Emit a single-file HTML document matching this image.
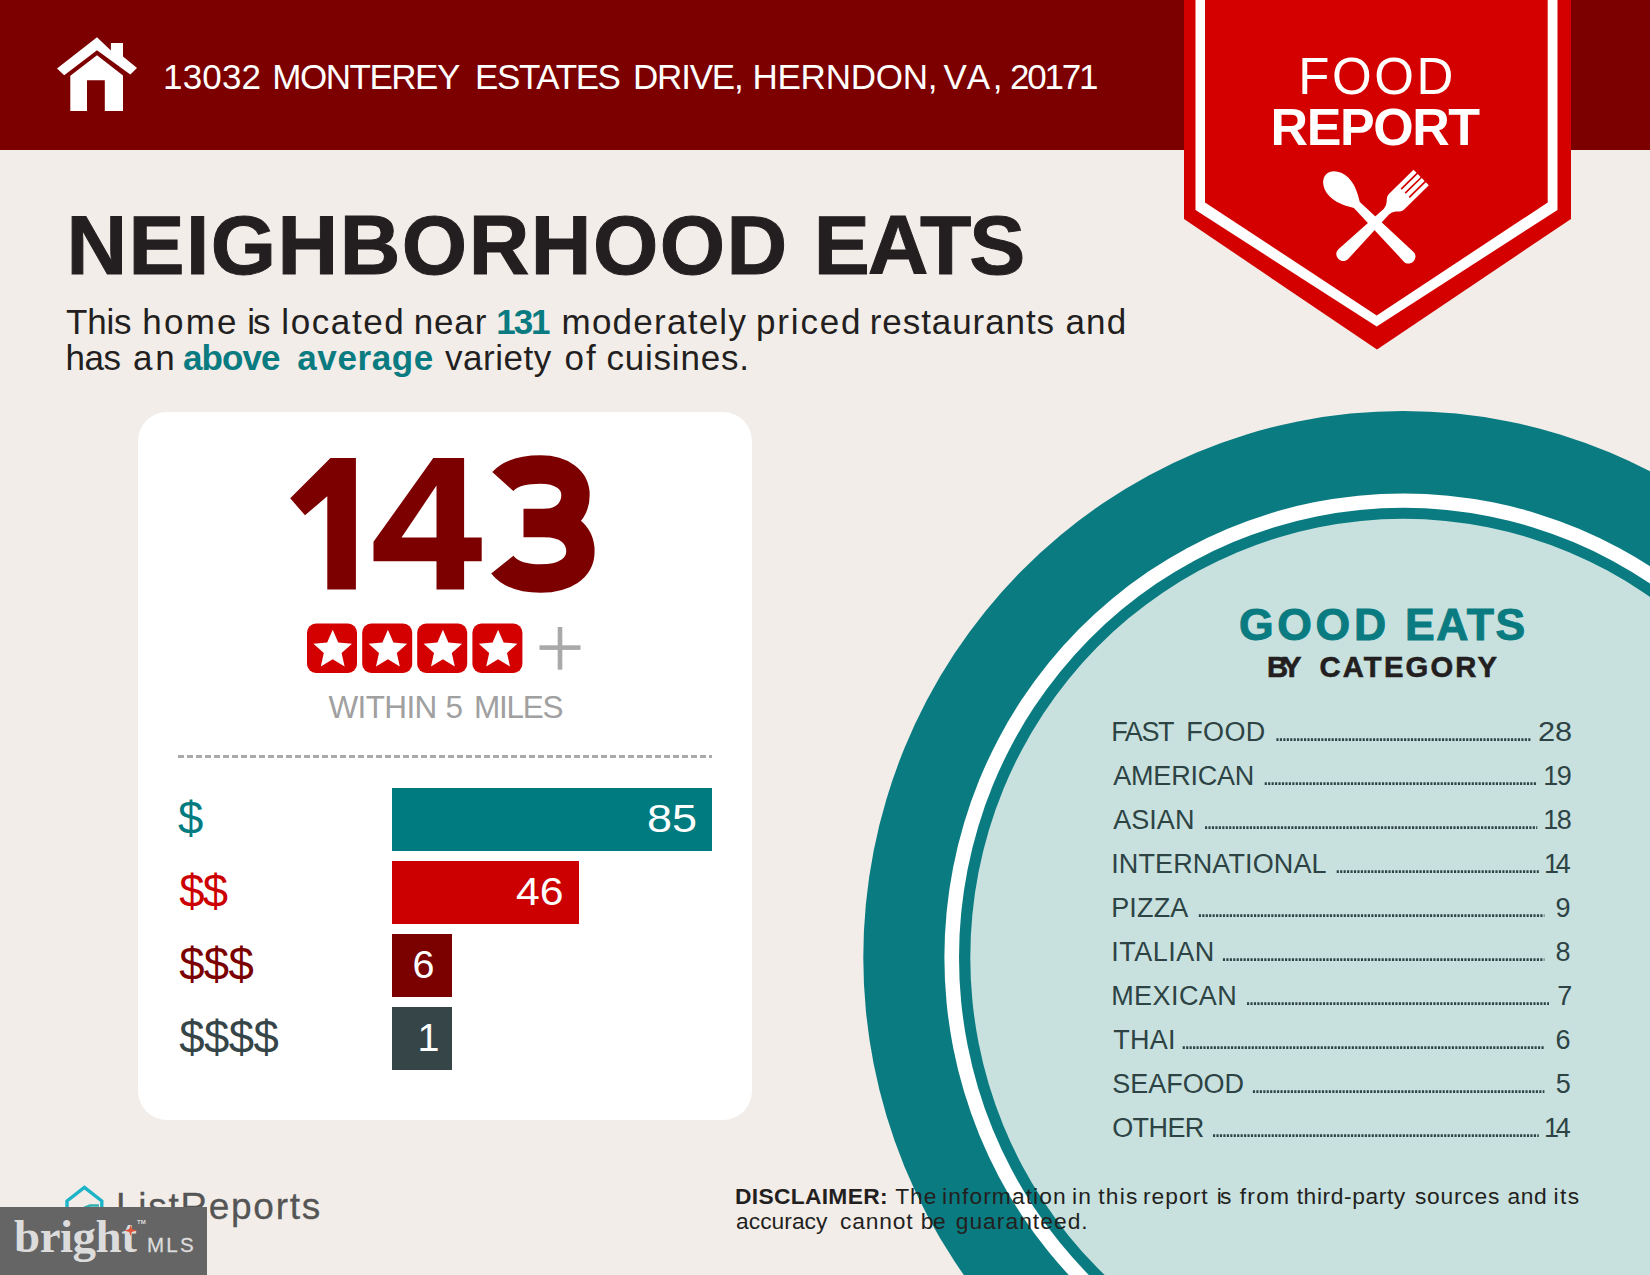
<!DOCTYPE html>
<html>
<head>
<meta charset="utf-8">
<title>Food Report</title>
<style>
*{margin:0;padding:0;box-sizing:border-box}
html,body{width:1650px;height:1275px;overflow:hidden}
body{background:#f2ede9;font-family:"Liberation Sans",sans-serif;position:relative;color:#231f20}
.abs{position:absolute;white-space:pre;line-height:1}
#hdr{position:absolute;left:0;top:0;width:1650px;height:150px;background:#7d0000}
#addr{left:163.5px;top:58.5px;font-size:34px;color:#fff;letter-spacing:0px}
.sub{font-size:33px;color:#231f20;letter-spacing:1.7px}
.sub b{color:#0a7b80}
#card{position:absolute;left:138px;top:412px;width:614px;height:708px;background:#fff;border-radius:29px}
#dash{position:absolute;left:178px;top:755px;width:534px;height:3px;background:repeating-linear-gradient(90deg,#aaa 0,#aaa 6px,transparent 6px,transparent 9px)}
.bar{position:absolute;left:392px;height:62.5px;color:#fff;font-size:40px;text-align:right;padding-right:16px;line-height:62px}
.dl{font-size:43px;letter-spacing:1px}
</style>
</head>
<body>
<div id="hdr"></div>

<!-- circle -->
<svg class="abs" style="left:0;top:0" width="1650" height="1275" viewBox="0 0 1650 1275">
  <ellipse cx="1403.3" cy="957.4" rx="540" ry="546.5" fill="#0a7b80"/>
  <ellipse cx="1403.3" cy="957.4" rx="458.9" ry="464" fill="#fff"/>
  <ellipse cx="1403.3" cy="957.4" rx="444.3" ry="449.6" fill="#0a7b80"/>
  <ellipse cx="1403.3" cy="957.4" rx="433" ry="438.6" fill="#c8e1df"/>
</svg>

<!-- house icon -->
<svg class="abs" style="left:50px;top:30px" width="100" height="90" viewBox="50 30 100 90">
  <path fill="#fff" d="M97 37.3 L110.9 50.6 L110.9 43 L123 43 L123 56.5 L137 67.9 L130.3 74.6 L97 50.3 L64.2 75.2 L57 68.5 Z"/>
  <path fill="#fff" d="M97 55.2 L123 75.5 L123 110.9 L104.8 110.9 L104.8 80.2 L87 80.2 L87 110.9 L70.3 110.9 L70.3 75.8 Z"/>
</svg>

<!-- badge -->
<svg class="abs" style="left:1170px;top:0" width="420" height="360" viewBox="1170 0 420 360">
  <polygon fill="#d40000" points="1184,0 1571,0 1571,219 1377,349.5 1184,219"/>
  <polygon fill="#fff" points="1195.5,0 1557.5,0 1557.5,210 1376.7,326.5 1195.5,210"/>
  <polygon fill="#d40000" points="1205,0 1547.7,0 1547.7,202.5 1376.7,315.4 1205,202.5"/>
  <g id="utensils" fill="#fff">
    <g transform="translate(1374.9,223) rotate(45.5)">
      <path d="M-10.9,-64.9 L-10.9,-31 C-10.9,-24 -4.8,-25 -3.8,-16 L-6.9,44 C-7.3,53.5 7.3,53.5 6.9,44 L3.8,-16 C4.8,-25 10.9,-24 10.9,-31 L10.9,-64.9 L6.6,-64.9 L6.6,-42.5 L4.9,-42.5 L4.9,-64.9 L0.85,-64.9 L0.85,-42.5 L-0.85,-42.5 L-0.85,-64.9 L-4.9,-64.9 L-4.9,-42.5 L-6.6,-42.5 L-6.6,-64.9 Z"/>
    </g>
    <g transform="translate(1374.9,223) rotate(-45)">
      <path d="M0,-69 C7,-69 13.2,-61 13.2,-51 C13.2,-43 10.5,-36 4.2,-25.5 L6.8,47.5 C7.2,56.5 -7.2,56.5 -6.8,47.5 L-4.2,-25.5 C-10.5,-36 -13.2,-43 -13.2,-51 C-13.2,-61 -7,-69 0,-69 Z"/>
    </g>
  </g>
</svg>


<div id="card"></div>
<svg class="abs" id="big" style="left:280px;top:445px" width="330" height="160" viewBox="280 445 330 160">
  <g fill="#7d0000">
    <polygon points="330.5,458 355.9,458 355.9,589.6 327.3,589.6 327.3,496.2 305,515.3 290.2,498.3"/>
    <path fill-rule="evenodd" d="M433.3 458 L464.1 458 L464.1 537.6 L481.7 537.6 L481.7 561.3 L464.1 561.3 L464.1 589.6 L436.5 589.6 L436.5 561.3 L373.5 561.3 L373.5 541.8 Z M436.5 485.6 L436.5 537.6 L401.5 537.6 Z"/>
  </g>
  <g fill="none" stroke="#7d0000" stroke-width="28.4">
    <path d="M502.8 481.5 C510 473.5 523 469.5 540.5 469.5 C562 469.5 575.5 480 575.5 495 C575.5 512 562 523 545 523 L523.5 523"/>
    <path d="M545 523 C566 523 580.4 534 580.4 551.5 C580.4 568 565 578.5 540.5 578.5 C522 578.5 509 573 502.3 564.6"/>
  </g>
</svg>

<!-- stars -->
<svg class="abs" style="left:300px;top:618px" width="300" height="62" viewBox="300 618 300 62">
  <defs>
    <g id="st">
      <rect x="0" y="0" width="50" height="49.5" rx="9" ry="9" fill="#d40000"/>
      <polygon fill="#fff" points="25.7,6.2 31.2,18.9 45.0,20.2 34.6,29.4 37.6,42.9 25.7,35.8 13.8,42.9 16.8,29.4 6.4,20.2 20.2,18.9"/>
    </g>
  </defs>
  <use href="#st" x="307" y="623.5"/>
  <use href="#st" x="362.2" y="623.5"/>
  <use href="#st" x="417.2" y="623.5"/>
  <use href="#st" x="472.4" y="623.5"/>
  <rect x="539.5" y="645.3" width="41" height="4.6" fill="#a9a9a9"/>
  <rect x="557.7" y="627" width="4.6" height="42.7" fill="#a9a9a9"/>
</svg>
<div id="dash"></div>

<div class="bar" style="top:788px;width:320px;background:#007b7f"></div>
<div class="bar" style="top:861px;width:187px;background:#cc0000"></div>
<div class="bar" style="top:934px;width:60px;background:#7b0000"></div>
<div class="bar" style="top:1007px;width:60px;background:#364548"></div>

<!-- good eats -->


<svg class="abs" style="left:0;top:0" width="1650" height="1275" viewBox="0 0 1650 1275"><g stroke="#2d4344" stroke-width="2.6" stroke-dasharray="2.15 1.3"><line x1="1276.4" y1="739.65" x2="1530.5" y2="739.65"/><line x1="1264.7" y1="783.65" x2="1537.3" y2="783.65"/><line x1="1205.0" y1="827.65" x2="1537.3" y2="827.65"/><line x1="1336.7" y1="871.65" x2="1538.8" y2="871.65"/><line x1="1198.8" y1="915.65" x2="1544.4" y2="915.65"/><line x1="1222.9" y1="959.65" x2="1544.4" y2="959.65"/><line x1="1247.0" y1="1003.65" x2="1549.0" y2="1003.65"/><line x1="1182.7" y1="1047.65" x2="1544.4" y2="1047.65"/><line x1="1252.9" y1="1091.65" x2="1544.4" y2="1091.65"/><line x1="1213.0" y1="1135.65" x2="1538.8" y2="1135.65"/></g></svg>
<!-- disclaimer -->

<!--WORDS-START-->
<span class="abs" style="left:163.1px;top:59.0px;font-size:35px;letter-spacing:0.16px;color:#fff">13032</span>
<span class="abs" style="left:272.2px;top:59.0px;font-size:35px;letter-spacing:-1.46px;color:#fff">MONTEREY</span>
<span class="abs" style="left:475.0px;top:59.0px;font-size:35px;letter-spacing:-1.39px;color:#fff">ESTATES</span>
<span class="abs" style="left:633.0px;top:59.0px;font-size:35px;letter-spacing:-1.19px;color:#fff">DRIVE,</span>
<span class="abs" style="left:752.5px;top:59.0px;font-size:35px;letter-spacing:-0.25px;color:#fff">HERNDON,</span>
<span class="abs" style="left:943.4px;top:59.0px;font-size:35px;letter-spacing:2.60px;color:#fff">VA,</span>
<span class="abs" style="left:1009.9px;top:59.0px;font-size:35px;letter-spacing:-2.19px;color:#fff">20171</span>
<span class="abs" style="left:66.0px;top:303.7px;font-size:35px;letter-spacing:-0.21px;color:#231f20">This</span>
<span class="abs" style="left:142.3px;top:303.7px;font-size:35px;letter-spacing:2.20px;color:#231f20">home</span>
<span class="abs" style="left:247.3px;top:303.7px;font-size:35px;letter-spacing:-2.08px;color:#231f20">is</span>
<span class="abs" style="left:281.3px;top:303.7px;font-size:35px;letter-spacing:1.60px;color:#231f20">located</span>
<span class="abs" style="left:413.7px;top:303.7px;font-size:35px;letter-spacing:0.87px;color:#231f20">near</span>
<span class="abs" style="left:496.3px;top:303.7px;font-size:35px;letter-spacing:-2.12px;font-weight:700;color:#0a7b80">131</span>
<span class="abs" style="left:561.5px;top:303.7px;font-size:35px;letter-spacing:1.25px;color:#231f20">moderately</span>
<span class="abs" style="left:756.0px;top:303.7px;font-size:35px;letter-spacing:1.83px;color:#231f20">priced</span>
<span class="abs" style="left:869.8px;top:303.7px;font-size:35px;letter-spacing:0.92px;color:#231f20">restaurants</span>
<span class="abs" style="left:1065.4px;top:303.7px;font-size:35px;letter-spacing:1.23px;color:#231f20">and</span>
<span class="abs" style="left:65.6px;top:340.4px;font-size:35px;letter-spacing:-0.47px;color:#231f20">has</span>
<span class="abs" style="left:133.0px;top:340.4px;font-size:35px;letter-spacing:2.83px;color:#231f20">an</span>
<span class="abs" style="left:183.0px;top:340.4px;font-size:35px;letter-spacing:-0.92px;font-weight:700;color:#0a7b80">above</span>
<span class="abs" style="left:297.3px;top:340.4px;font-size:35px;letter-spacing:0.59px;font-weight:700;color:#0a7b80">average</span>
<span class="abs" style="left:445.0px;top:340.4px;font-size:35px;letter-spacing:0.52px;color:#231f20">variety</span>
<span class="abs" style="left:564.6px;top:340.4px;font-size:35px;letter-spacing:1.93px;color:#231f20">of</span>
<span class="abs" style="left:606.5px;top:340.4px;font-size:35px;letter-spacing:0.78px;color:#231f20">cuisines.</span>
<span class="abs" style="left:735.0px;top:1185.2px;font-size:22.8px;letter-spacing:0.31px;font-weight:700;color:#231f20">DISCLAIMER:</span>
<span class="abs" style="left:895.2px;top:1185.2px;font-size:22.8px;letter-spacing:0.95px;color:#231f20">The</span>
<span class="abs" style="left:942.1px;top:1185.2px;font-size:22.8px;letter-spacing:1.08px;color:#231f20">information</span>
<span class="abs" style="left:1072.0px;top:1185.2px;font-size:22.8px;letter-spacing:1.24px;color:#231f20">in</span>
<span class="abs" style="left:1098.3px;top:1185.2px;font-size:22.8px;letter-spacing:1.21px;color:#231f20">this</span>
<span class="abs" style="left:1143.0px;top:1185.2px;font-size:22.8px;letter-spacing:1.02px;color:#231f20">report</span>
<span class="abs" style="left:1216.7px;top:1185.2px;font-size:22.8px;letter-spacing:-1.66px;color:#231f20">is</span>
<span class="abs" style="left:1239.7px;top:1185.2px;font-size:22.8px;letter-spacing:1.27px;color:#231f20">from</span>
<span class="abs" style="left:1296.7px;top:1185.2px;font-size:22.8px;letter-spacing:0.59px;color:#231f20">third-party</span>
<span class="abs" style="left:1414.9px;top:1185.2px;font-size:22.8px;letter-spacing:0.78px;color:#231f20">sources</span>
<span class="abs" style="left:1507.5px;top:1185.2px;font-size:22.8px;letter-spacing:0.57px;color:#231f20">and</span>
<span class="abs" style="left:1553.5px;top:1185.2px;font-size:22.8px;letter-spacing:1.40px;color:#231f20">its</span>
<span class="abs" style="left:736.0px;top:1210.2px;font-size:22.8px;letter-spacing:0.03px;color:#231f20">accuracy</span>
<span class="abs" style="left:840.0px;top:1210.2px;font-size:22.8px;letter-spacing:0.84px;color:#231f20">cannot</span>
<span class="abs" style="left:920.8px;top:1210.2px;font-size:22.8px;letter-spacing:-0.48px;color:#231f20">be</span>
<span class="abs" style="left:955.7px;top:1210.2px;font-size:22.8px;letter-spacing:1.03px;color:#231f20">guaranteed.</span>
<span class="abs" style="left:328.5px;top:691.9px;font-size:31.5px;letter-spacing:-0.62px;color:#a0a0a0">WITHIN</span>
<span class="abs" style="left:445.6px;top:691.9px;font-size:31.5px;letter-spacing:0.00px;color:#a0a0a0">5</span>
<span class="abs" style="left:474.0px;top:691.9px;font-size:31.5px;letter-spacing:-1.28px;color:#a0a0a0">MILES</span>
<span class="abs" style="left:1111.2px;top:718.8px;font-size:27px;letter-spacing:-1.37px;color:#2d4344">FAST</span>
<span class="abs" style="left:1186.3px;top:718.8px;font-size:27px;letter-spacing:0.30px;color:#2d4344">FOOD</span>
<span class="abs" style="left:1537.7px;top:718.8px;font-size:27px;transform-origin:0 0;transform:scaleX(1.139);color:#2d4344">28</span>
<span class="abs" style="left:1113.2px;top:762.8px;font-size:27px;letter-spacing:-0.19px;color:#2d4344">AMERICAN</span>
<span class="abs" style="left:1543.3px;top:762.8px;font-size:27px;letter-spacing:-1.62px;color:#2d4344">19</span>
<span class="abs" style="left:1113.2px;top:806.8px;font-size:27px;letter-spacing:0.04px;color:#2d4344">ASIAN</span>
<span class="abs" style="left:1543.3px;top:806.8px;font-size:27px;letter-spacing:-1.62px;color:#2d4344">18</span>
<span class="abs" style="left:1111.2px;top:850.8px;font-size:27px;letter-spacing:0.11px;color:#2d4344">INTERNATIONAL</span>
<span class="abs" style="left:1544.0px;top:850.8px;font-size:27px;letter-spacing:-3.32px;color:#2d4344">14</span>
<span class="abs" style="left:1111.2px;top:894.8px;font-size:27px;letter-spacing:0.15px;color:#2d4344">PIZZA</span>
<span class="abs" style="left:1555.5px;top:894.8px;font-size:27px;letter-spacing:0.00px;color:#2d4344">9</span>
<span class="abs" style="left:1111.2px;top:938.8px;font-size:27px;letter-spacing:0.50px;color:#2d4344">ITALIAN</span>
<span class="abs" style="left:1555.5px;top:938.8px;font-size:27px;letter-spacing:0.00px;color:#2d4344">8</span>
<span class="abs" style="left:1111.2px;top:982.8px;font-size:27px;letter-spacing:0.43px;color:#2d4344">MEXICAN</span>
<span class="abs" style="left:1557.3px;top:982.8px;font-size:27px;letter-spacing:0.00px;color:#2d4344">7</span>
<span class="abs" style="left:1113.2px;top:1026.8px;font-size:27px;letter-spacing:0.30px;color:#2d4344">THAI</span>
<span class="abs" style="left:1555.5px;top:1026.8px;font-size:27px;letter-spacing:0.00px;color:#2d4344">6</span>
<span class="abs" style="left:1112.2px;top:1070.8px;font-size:27px;letter-spacing:-0.02px;color:#2d4344">SEAFOOD</span>
<span class="abs" style="left:1555.8px;top:1070.8px;font-size:27px;letter-spacing:0.00px;color:#2d4344">5</span>
<span class="abs" style="left:1112.2px;top:1114.8px;font-size:27px;letter-spacing:-0.60px;color:#2d4344">OTHER</span>
<span class="abs" style="left:1544.0px;top:1114.8px;font-size:27px;letter-spacing:-3.32px;color:#2d4344">14</span>
<span class="abs" style="left:1298.3px;top:51.4px;font-size:51px;letter-spacing:2.57px;color:#fff">FOOD</span>
<span class="abs" style="left:1270.5px;top:100.6px;font-size:52px;letter-spacing:-1.42px;font-weight:700;color:#fff">REPORT</span>
<span class="abs" style="left:178.1px;top:795.9px;font-size:45.5px;letter-spacing:0.00px;color:#007b7f">$</span>
<span class="abs" style="left:179.3px;top:868.9px;font-size:45.5px;letter-spacing:-1.90px;color:#cc0000">$$</span>
<span class="abs" style="left:179.3px;top:941.9px;font-size:45.5px;letter-spacing:-0.75px;color:#7b0000">$$$</span>
<span class="abs" style="left:179.3px;top:1014.9px;font-size:45.5px;letter-spacing:-0.54px;color:#364548">$$$$</span>
<span class="abs" style="left:646.7px;top:798.6px;font-size:39.5px;transform-origin:0 0;transform:scaleX(1.139);color:#fff">85</span>
<span class="abs" style="left:516.0px;top:871.6px;font-size:39.5px;transform-origin:0 0;transform:scaleX(1.082);color:#fff">46</span>
<span class="abs" style="left:412.5px;top:944.6px;font-size:39.5px;letter-spacing:0.00px;color:#fff">6</span>
<span class="abs" style="left:417.6px;top:1017.6px;font-size:39.5px;letter-spacing:0.00px;color:#fff">1</span>
<span class="abs" style="left:66.4px;top:202.9px;font-size:84px;letter-spacing:1.46px;-webkit-text-stroke:1px #231f20;font-weight:700;color:#231f20">NEIGHBORHOOD</span>
<span class="abs" style="left:813.8px;top:202.9px;font-size:84px;letter-spacing:-2.12px;-webkit-text-stroke:1px #231f20;font-weight:700;color:#231f20">EATS</span>
<span class="abs" style="left:1238.9px;top:602.8px;font-size:44.5px;letter-spacing:3.75px;-webkit-text-stroke:1px #0a7b80;font-weight:700;color:#0a7b80">GOOD</span>
<span class="abs" style="left:1405.1px;top:602.8px;font-size:44.5px;letter-spacing:1.57px;-webkit-text-stroke:1px #0a7b80;font-weight:700;color:#0a7b80">EATS</span>
<span class="abs" style="left:1266.9px;top:652.7px;font-size:29.2px;letter-spacing:-5.88px;-webkit-text-stroke:0.6px #231f20;font-weight:700;color:#231f20">BY</span>
<span class="abs" style="left:1319.5px;top:652.7px;font-size:29.2px;letter-spacing:2.19px;-webkit-text-stroke:0.6px #231f20;font-weight:700;color:#231f20">CATEGORY</span>
<!--WORDS-END-->
<!-- listreports logo -->
<svg class="abs" style="left:60px;top:1180px" width="50" height="50" viewBox="60 1180 50 50">
  <path fill="none" stroke="#1cb4c6" stroke-width="3.4" stroke-linejoin="miter" d="M84.4 1187.4 L101.8 1201 L101.8 1222 L67 1222 L67 1201 Z"/><path fill="none" stroke="#2fb0b0" stroke-width="2.5" d="M84 1208 L90 1205.6 L99 1205.4"/>
</svg>
<div class="abs" id="lr" style="left:116px;top:1187.5px;font-size:37px;color:#555;letter-spacing:1.7px;-webkit-text-stroke:0.3px #555">ListReports</div>

<!-- bright mls -->
<div style="position:absolute;left:0;top:1207px;width:207px;height:68px;background:#656565"></div>
<div class="abs" id="bright" style="left:14px;top:1213px;font-family:'Liberation Serif',serif;font-weight:700;font-size:47px;color:#dcdcdc;letter-spacing:-0.5px">bright</div>
<div class="abs" id="mls" style="left:147px;top:1235px;font-size:20.5px;color:#dcdcdc;letter-spacing:2.2px;-webkit-text-stroke:0.3px #dcdcdc">MLS</div>
<div class="abs" style="left:137px;top:1219px;font-size:6px;color:#dcdcdc;font-weight:700">TM</div>
<svg class="abs" style="left:124px;top:1224.5px" width="13" height="11" viewBox="0 0 16 14"><path fill="#e0543a" d="M8 0 L9.6 5 L16 7 L9.6 9 L8 14 L6.4 9 L0 7 L6.4 5 Z"/></svg>
</body>
</html>
